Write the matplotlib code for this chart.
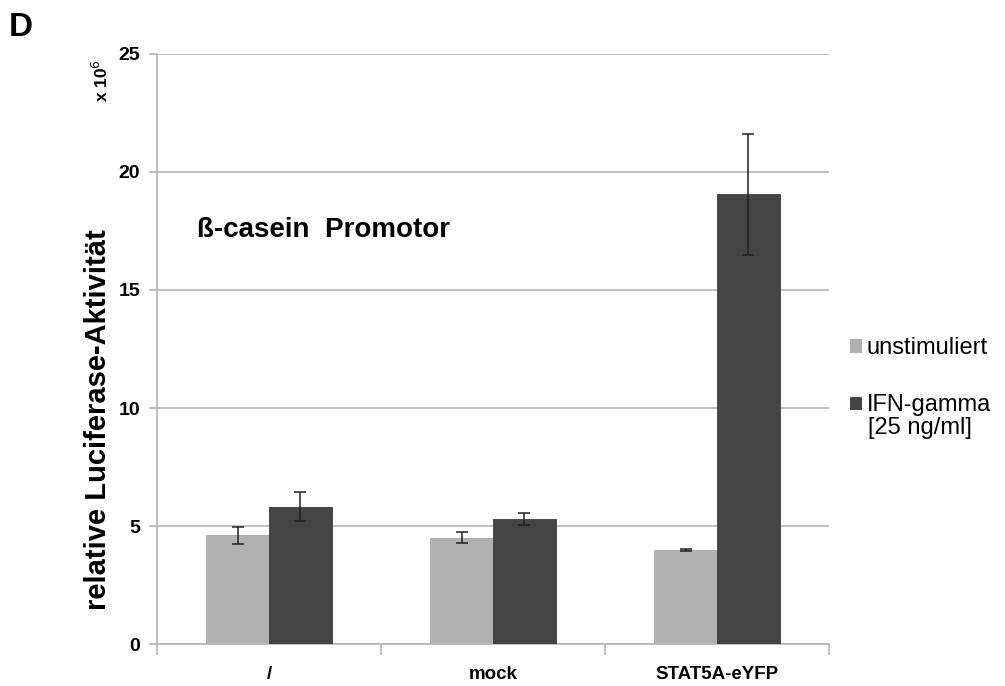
import numpy as np
import matplotlib
matplotlib.use('Agg')
from matplotlib import pyplot as plt

plt.rcParams['font.family'] = ['Liberation Sans', 'DejaVu Sans']

# values (x 10^6)
categories = ['/', 'mock', 'STAT5A-eYFP']
unstim = [4.60, 4.51, 3.99]
unstim_err = [0.36, 0.24, 0.05]
ifn = [5.82, 5.30, 19.05]
ifn_err = [0.62, 0.25, 2.55]
series_names = ['unstimuliert', 'IFN-gamma']
ifn_note = '[25 ng/ml]'
y_ticks = [0, 5, 10, 15, 20, 25]

fig = plt.figure(figsize=(10.05, 6.86), dpi=100)
ax = fig.add_axes([0.1562, 0.0612, 0.6687, 0.8601])

x = np.arange(len(categories))
w = 0.281
grid_col = '#b4b4b4'
ax.bar(x - w / 2, unstim, w, color='#b2b2b2', edgecolor='#a8a8a8', linewidth=0.6,
       zorder=3, label=series_names[0])
ax.bar(x + w / 2, ifn, w, color='#454545', edgecolor='#3c3c3c', linewidth=0.6,
       zorder=3, label=series_names[1])
ax.errorbar(x - w / 2, unstim, yerr=unstim_err, fmt='none', ecolor='#202020',
            elinewidth=1.1, capsize=4, capthick=1.1, zorder=4)
ax.errorbar(x + w / 2, ifn, yerr=ifn_err, fmt='none', ecolor='#202020',
            elinewidth=1.1, capsize=4, capthick=1.1, zorder=4)

ax.set_xlim(-0.5, 2.5)
ax.set_ylim(0, 25)
ax.set_yticks(y_ticks)
ax.set_yticklabels([str(t) for t in y_ticks], fontsize=14, fontweight='bold')
ax.yaxis.grid(True, color=grid_col, linewidth=1.2, zorder=0)
ax.tick_params(axis='y', length=6, color=grid_col, width=1.2, pad=6)

# category labels between boundary ticks
ax.set_xticks([-0.5, 0.5, 1.5, 2.5])
ax.set_xticklabels([])
ax.tick_params(axis='x', length=8, color=grid_col, width=1.2)
for xi, c in zip(x, categories):
    ax.text(xi, -0.95, c, ha='center', va='top', fontsize=13.5, fontweight='bold')

for s in ['top', 'right']:
    ax.spines[s].set_visible(False)
for s in ['left', 'bottom']:
    ax.spines[s].set_color(grid_col)
    ax.spines[s].set_linewidth(1.2)

fig.text(0.098, 0.388, 'relative Luciferase-Aktivität', rotation=90, fontsize=21,
         fontweight='bold', ha='center', va='center')
fig.text(0.100, 0.883, 'x 10$^{6}$', rotation=90, fontsize=12.5, fontweight='bold',
         ha='center', va='center')
ax.text(0.06, 0.702, 'ß-casein  Promotor', transform=ax.transAxes, fontsize=20,
        fontweight='bold', va='center')
fig.text(0.009, 0.96, 'D', fontsize=24, fontweight='bold', va='center')

ax.legend(loc='center left', bbox_to_anchor=(1.0, 0.453), frameon=False, fontsize=17,
          handlelength=0.45, handleheight=0.45, handletextpad=0.25, labelspacing=1.5)
fig.text(0.8637, 0.376, ifn_note, fontsize=17, va='center', ha='left')

fig.savefig('out.png', dpi=100)
